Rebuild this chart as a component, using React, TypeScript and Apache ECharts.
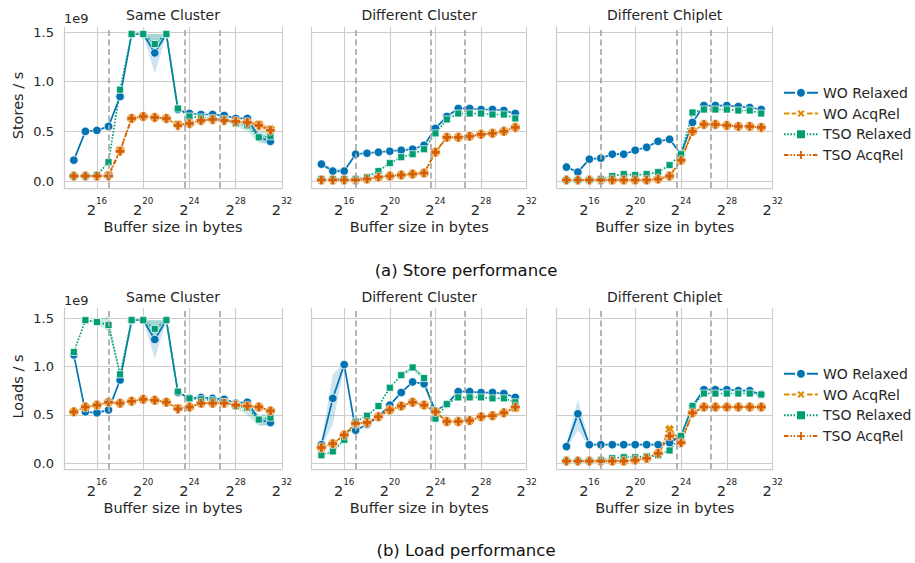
import React, { useEffect, useRef } from "react";
import * as echarts from "echarts";

// ---------------- data ----------------
const exponents = [14, 15, 16, 17, 18, 19, 20, 21, 22, 23, 24, 25, 26, 27, 28, 29, 30, 31];
const seriesNames = ["WO Relaxed", "WO AcqRel", "TSO Relaxed", "TSO AcqRel"];
const panelTitles = ["Same Cluster", "Different Cluster", "Different Chiplet"];
const rowYLabels = ["Stores / s", "Loads / s"];
const captions = ["(a) Store performance", "(b) Load performance"];
const cacheBoundaries = [17, 23.6, 26.6];
const xTicks = [16, 20, 24, 28, 32];
const yTicks = [0, 0.5, 1.0, 1.5];

// values in units of 1e9 per second
const storeSameWoRelaxed = [0.21, 0.50, 0.51, 0.55, 0.85, 1.48, 1.48, 1.29, 1.48, 0.72, 0.68, 0.67, 0.67, 0.66, 0.63, 0.63, 0.44, 0.40];
const storeSameWoAcqRel = [0.05, 0.05, 0.05, 0.06, 0.31, 0.63, 0.65, 0.64, 0.63, 0.57, 0.58, 0.61, 0.62, 0.61, 0.60, 0.59, 0.57, 0.52];
const storeSameTsoRelaxed = [0.05, 0.05, 0.06, 0.19, 0.92, 1.48, 1.48, 1.38, 1.48, 0.73, 0.65, 0.64, 0.63, 0.62, 0.58, 0.56, 0.44, 0.45];
const storeSameTsoAcqRel = [0.05, 0.05, 0.05, 0.05, 0.30, 0.63, 0.65, 0.64, 0.63, 0.56, 0.58, 0.61, 0.62, 0.61, 0.60, 0.59, 0.56, 0.51];

const storeClusterWoRelaxed = [0.17, 0.10, 0.10, 0.27, 0.28, 0.29, 0.30, 0.31, 0.32, 0.36, 0.53, 0.65, 0.73, 0.73, 0.72, 0.72, 0.71, 0.68];
const storeClusterWoAcqRel = [0.01, 0.01, 0.01, 0.01, 0.02, 0.04, 0.05, 0.06, 0.07, 0.08, 0.29, 0.44, 0.44, 0.45, 0.47, 0.48, 0.50, 0.54];
const storeClusterTsoRelaxed = [0.02, 0.02, 0.02, 0.02, 0.04, 0.10, 0.18, 0.24, 0.27, 0.32, 0.48, 0.62, 0.68, 0.68, 0.68, 0.67, 0.67, 0.63];
const storeClusterTsoAcqRel = [0.01, 0.01, 0.01, 0.01, 0.02, 0.04, 0.05, 0.06, 0.07, 0.08, 0.29, 0.44, 0.44, 0.45, 0.47, 0.48, 0.50, 0.54];

const storeChipletWoRelaxed = [0.14, 0.09, 0.22, 0.23, 0.27, 0.27, 0.31, 0.34, 0.40, 0.42, 0.27, 0.59, 0.76, 0.76, 0.76, 0.75, 0.74, 0.72];
const storeChipletWoAcqRel = [0.01, 0.01, 0.01, 0.01, 0.01, 0.01, 0.01, 0.01, 0.02, 0.05, 0.21, 0.50, 0.57, 0.57, 0.56, 0.55, 0.55, 0.54];
const storeChipletTsoRelaxed = [0.01, 0.01, 0.01, 0.02, 0.05, 0.07, 0.06, 0.07, 0.09, 0.16, 0.27, 0.69, 0.72, 0.72, 0.72, 0.71, 0.71, 0.68];
const storeChipletTsoAcqRel = [0.01, 0.01, 0.01, 0.01, 0.01, 0.01, 0.01, 0.01, 0.02, 0.05, 0.21, 0.50, 0.57, 0.57, 0.56, 0.55, 0.55, 0.54];

const loadSameWoRelaxed = [1.12, 0.53, 0.52, 0.55, 0.86, 1.48, 1.48, 1.28, 1.48, 0.73, 0.67, 0.68, 0.67, 0.66, 0.62, 0.63, 0.45, 0.42];
const loadSameWoAcqRel = [0.53, 0.58, 0.60, 0.63, 0.62, 0.64, 0.66, 0.65, 0.63, 0.57, 0.58, 0.62, 0.62, 0.62, 0.60, 0.59, 0.58, 0.54];
const loadSameTsoRelaxed = [1.15, 1.48, 1.46, 1.43, 0.92, 1.48, 1.48, 1.39, 1.48, 0.74, 0.67, 0.66, 0.65, 0.63, 0.59, 0.57, 0.45, 0.47];
const loadSameTsoAcqRel = [0.53, 0.58, 0.60, 0.63, 0.62, 0.64, 0.66, 0.65, 0.63, 0.56, 0.58, 0.62, 0.62, 0.62, 0.60, 0.59, 0.58, 0.54];

const loadClusterWoRelaxed = [0.19, 0.67, 1.02, 0.34, 0.40, 0.48, 0.60, 0.73, 0.84, 0.82, 0.54, 0.61, 0.74, 0.74, 0.73, 0.73, 0.72, 0.68];
const loadClusterWoAcqRel = [0.16, 0.20, 0.29, 0.41, 0.42, 0.48, 0.55, 0.59, 0.63, 0.60, 0.53, 0.43, 0.43, 0.44, 0.48, 0.49, 0.52, 0.57];
const loadClusterTsoRelaxed = [0.08, 0.12, 0.24, 0.43, 0.49, 0.59, 0.78, 0.91, 0.99, 0.88, 0.46, 0.61, 0.68, 0.68, 0.68, 0.67, 0.67, 0.63];
const loadClusterTsoAcqRel = [0.16, 0.20, 0.29, 0.41, 0.42, 0.48, 0.55, 0.59, 0.63, 0.60, 0.53, 0.43, 0.43, 0.44, 0.48, 0.49, 0.52, 0.58];

const loadChipletWoRelaxed = [0.17, 0.51, 0.19, 0.19, 0.19, 0.19, 0.19, 0.19, 0.19, 0.21, 0.28, 0.59, 0.76, 0.76, 0.76, 0.75, 0.75, 0.71];
const loadChipletWoAcqRel = [0.02, 0.02, 0.02, 0.02, 0.02, 0.02, 0.03, 0.05, 0.10, 0.35, 0.22, 0.52, 0.58, 0.58, 0.58, 0.58, 0.58, 0.58];
const loadChipletTsoRelaxed = [0.02, 0.02, 0.02, 0.03, 0.05, 0.06, 0.06, 0.07, 0.08, 0.13, 0.28, 0.59, 0.72, 0.72, 0.72, 0.72, 0.72, 0.71];
const loadChipletTsoAcqRel = [0.02, 0.02, 0.02, 0.02, 0.02, 0.02, 0.03, 0.05, 0.10, 0.28, 0.21, 0.52, 0.58, 0.58, 0.58, 0.58, 0.58, 0.58];

// confidence bands: [exponent, lower, upper]
const bandsStoreSame = [
  { s: 0, pts: [[20, 1.48, 1.48], [21, 1.08, 1.48], [22, 1.48, 1.48]] },
  { s: 2, pts: [[20, 1.48, 1.48], [21, 1.27, 1.48], [22, 1.48, 1.48]] },
  { s: 2, pts: [[27, 0.62, 0.63], [28, 0.55, 0.61], [29, 0.50, 0.60], [30, 0.38, 0.50], [31, 0.38, 0.50]] },
  { s: 0, pts: [[29, 0.61, 0.65], [30, 0.40, 0.48], [31, 0.36, 0.44]] },
  { s: 3, pts: [[29, 0.56, 0.62], [30, 0.52, 0.60], [31, 0.47, 0.55]] },
];
const bandsStoreCluster = [
  { s: 0, pts: [[14, 0.15, 0.19], [15, 0.08, 0.13], [16, 0.08, 0.12]] },
];
const bandsStoreChiplet = [];
const bandsLoadSame = [
  { s: 2, pts: [[15, 1.48, 1.48], [16, 1.44, 1.48], [17, 1.36, 1.52], [18, 0.90, 0.94]] },
  { s: 0, pts: [[20, 1.48, 1.48], [21, 1.08, 1.48], [22, 1.48, 1.48]] },
  { s: 2, pts: [[20, 1.48, 1.48], [21, 1.28, 1.48], [22, 1.48, 1.48]] },
  { s: 2, pts: [[28, 0.56, 0.62], [29, 0.50, 0.62], [30, 0.38, 0.50], [31, 0.40, 0.52]] },
  { s: 0, pts: [[29, 0.60, 0.66], [30, 0.40, 0.49], [31, 0.38, 0.45]] },
];
const bandsLoadCluster = [
  { s: 0, pts: [[14, 0.16, 0.22], [15, 0.40, 0.92], [16, 1.00, 1.04], [17, 0.32, 0.36]] },
  { s: 2, pts: [[21, 0.89, 0.93], [22, 0.96, 1.01], [23, 0.85, 0.91]] },
];
const bandsLoadChiplet = [
  { s: 0, pts: [[14, 0.15, 0.19], [15, 0.34, 0.66], [16, 0.17, 0.21]] },
  { s: 1, pts: [[22, 0.08, 0.12], [23, 0.28, 0.38], [24, 0.20, 0.24]] },
];

const panelValues = [
  [storeSameWoRelaxed, storeSameWoAcqRel, storeSameTsoRelaxed, storeSameTsoAcqRel],
  [storeClusterWoRelaxed, storeClusterWoAcqRel, storeClusterTsoRelaxed, storeClusterTsoAcqRel],
  [storeChipletWoRelaxed, storeChipletWoAcqRel, storeChipletTsoRelaxed, storeChipletTsoAcqRel],
  [loadSameWoRelaxed, loadSameWoAcqRel, loadSameTsoRelaxed, loadSameTsoAcqRel],
  [loadClusterWoRelaxed, loadClusterWoAcqRel, loadClusterTsoRelaxed, loadClusterTsoAcqRel],
  [loadChipletWoRelaxed, loadChipletWoAcqRel, loadChipletTsoRelaxed, loadChipletTsoAcqRel],
];
const panelBands: any[] = [bandsStoreSame, bandsStoreCluster, bandsStoreChiplet, bandsLoadSame, bandsLoadCluster, bandsLoadChiplet];

// ---------------- styling ----------------
const FONT = '"DejaVu Sans", sans-serif';
const TEXT = "#262626";
const GRID_COLOR = "#cccccc";
const colors = ["#0173b2", "#de8f05", "#029e73", "#d55e00"];
const X_SYMBOL = "path://M0,3 L3,0 L5,2 L7,0 L10,3 L8,5 L10,7 L7,10 L5,8 L3,10 L0,7 L2,5 Z";
const P_SYMBOL = "path://M3.1,0 H6.9 V3.1 H10 V6.9 H6.9 V10 H3.1 V6.9 H0 V3.1 H3.1 Z";
const lineDefs = [
  { dash: "solid" as any, symbol: "circle", size: 8.5, border: 0.8 },
  { dash: [5.5, 2.2], symbol: X_SYMBOL, size: 9.5, border: 0.5 },
  { dash: [1.6, 1.6], symbol: "rect", size: 7, border: 0.7 },
  { dash: [4.5, 1.8, 1.5, 1.8], symbol: P_SYMBOL, size: 9.5, border: 0.5 },
];

const colLeft = [64, 311.7, 556.7];
const colWidth = [218, 215, 216];
const rowTop = [27, 308];
const rowHeight = 161;
const rowYMin = [-0.0705, -0.062];
const rowYMax = [1.551, 1.606];
const xMin = 13.15;
const xMax = 32;

function buildOption() {
  const grid: any[] = [];
  const xAxis: any[] = [];
  const yAxis: any[] = [];
  const series: any[] = [];
  const graphics: any[] = [];

  for (let p = 0; p < 6; p++) {
    const row = Math.floor(p / 3);
    const col = p % 3;
    grid.push({
      left: colLeft[col],
      top: rowTop[row],
      width: colWidth[col],
      height: rowHeight,
      containLabel: false,
      outerBoundsMode: "none",
    });
    xAxis.push({
      type: "value",
      gridIndex: p,
      min: xMin,
      max: xMax,
      axisLine: { show: true, onZero: false, lineStyle: { color: GRID_COLOR, width: 1.25 } },
      axisTick: { show: false, customValues: xTicks },
      axisLabel: {
        customValues: xTicks,
        margin: 8.75,
        formatter: (v: number) => `{b|2}{s|${Math.round(v)}}`,
        rich: {
          b: { fontSize: 14.5, fontFamily: FONT, color: TEXT, verticalAlign: "bottom", lineHeight: 20.5 },
          s: { fontSize: 8.8, fontFamily: FONT, color: TEXT, verticalAlign: "top", lineHeight: 20.5 },
        },
      },
      splitLine: { show: true, lineStyle: { color: GRID_COLOR, width: 1.1 } },
    });
    yAxis.push({
      type: "value",
      gridIndex: p,
      min: rowYMin[row],
      max: rowYMax[row],
      axisLine: { show: true, onZero: false, lineStyle: { color: GRID_COLOR, width: 1.25 } },
      axisTick: { show: false, customValues: yTicks },
      axisLabel: {
        show: col === 0,
        customValues: yTicks,
        margin: 10,
        formatter: (v: number) => v.toFixed(1),
        fontSize: 13,
        fontFamily: FONT,
        color: TEXT,
      },
      splitLine: { show: true, lineStyle: { color: GRID_COLOR, width: 1.1 } },
    });

    // bands
    panelBands[p].forEach((band: any) => {
      const pts = band.pts;
      series.push({
        type: "custom",
        xAxisIndex: p,
        yAxisIndex: p,
        silent: true,
        z: 1,
        data: [[pts[0][0], pts[0][1]]],
        renderItem: (_params: any, api: any) => {
          const upper = pts.map((q: number[]) => api.coord([q[0], q[2]]));
          const lower = pts.slice().reverse().map((q: number[]) => api.coord([q[0], q[1]]));
          return {
            type: "polygon",
            shape: { points: upper.concat(lower) },
            style: { fill: colors[band.s], opacity: 0.2 },
          };
        },
      });
    });

    // lines
    panelValues[p].forEach((vals, s) => {
      const def = lineDefs[s];
      const item: any = {
        type: "line",
        name: seriesNames[s],
        xAxisIndex: p,
        yAxisIndex: p,
        data: exponents.map((e, i) => [e, vals[i]]),
        symbol: def.symbol,
        symbolSize: def.size,
        showSymbol: true,
        showAllSymbol: true,
        z: 3,
        lineStyle: { color: colors[s], width: 1.7, type: def.dash },
        itemStyle: { color: colors[s], borderColor: "#ffffff", borderWidth: def.border },
        emphasis: { disabled: true },
      };
      if (s === 0) {
        item.markLine = {
          silent: true,
          symbol: ["none", "none"],
          label: { show: false },
          emphasis: { disabled: true },
          lineStyle: { color: "#a8a8a8", type: [6, 3.5], width: 1.7 },
          data: cacheBoundaries.map((v) => ({ xAxis: v })),
        };
      }
      series.push(item);
    });

    // titles and axis labels
    const cx = colLeft[col] + colWidth[col] / 2;
    graphics.push({
      type: "text",
      x: cx,
      y: row === 0 ? 15 : 297,
      style: {
        text: panelTitles[col],
        fontSize: 14,
        fontFamily: FONT,
        fill: TEXT,
        align: "center",
        verticalAlign: "middle",
        textAlign: "center",
        textVerticalAlign: "middle",
      },
    });
    graphics.push({
      type: "text",
      x: cx,
      y: row === 0 ? 226.5 : 507.5,
      style: {
        text: "Buffer size in bytes",
        fontSize: 14.5,
        fontFamily: FONT,
        fill: TEXT,
        align: "center",
        verticalAlign: "middle",
        textAlign: "center",
        textVerticalAlign: "middle",
      },
    });
  }

  for (let row = 0; row < 2; row++) {
    graphics.push({
      type: "text",
      x: 64,
      y: row === 0 ? 18.5 : 300.5,
      style: {
        text: "1e9",
        fontSize: 13,
        fontFamily: FONT,
        fill: TEXT,
        align: "left",
        verticalAlign: "middle",
        textAlign: "left",
        textVerticalAlign: "middle",
      },
    });
    graphics.push({
      type: "text",
      x: 18,
      y: rowTop[row] + rowHeight / 2 - 2,
      rotation: Math.PI / 2,
      style: {
        text: rowYLabels[row],
        fontSize: 14.5,
        fontFamily: FONT,
        fill: TEXT,
        align: "center",
        verticalAlign: "middle",
        textAlign: "center",
        textVerticalAlign: "middle",
      },
    });
    graphics.push({
      type: "text",
      x: 466,
      y: row === 0 ? 270 : 550,
      style: {
        text: captions[row],
        fontSize: 16.5,
        fontFamily: FONT,
        fill: "#111111",
        align: "center",
        verticalAlign: "middle",
        textAlign: "center",
        textVerticalAlign: "middle",
      },
    });
  }

  const legendBase = {
    orient: "vertical",
    left: 778,
    itemWidth: 34,
    itemHeight: 12.5,
    itemGap: 6.8,
    selectedMode: false,
    data: seriesNames,
    textStyle: { fontSize: 14, fontFamily: FONT, color: TEXT },
  };

  return {
    animation: false,
    backgroundColor: "#ffffff",
    grid,
    xAxis,
    yAxis,
    series,
    legend: [
      { ...legendBase, top: 80.7 },
      { ...legendBase, top: 361.7 },
    ],
    graphic: { elements: graphics },
  };
}

export default function App() {
  const ref = useRef<HTMLDivElement>(null);
  useEffect(() => {
    if (!ref.current) return;
    const chart = echarts.init(ref.current, undefined, { renderer: "svg" });
    chart.setOption(buildOption() as any);
    return () => chart.dispose();
  }, []);
  return (
    <div
      ref={ref}
      style={{ position: "absolute", left: 0, top: 0, width: 915, height: 563, background: "#ffffff" }}
    />
  );
}
